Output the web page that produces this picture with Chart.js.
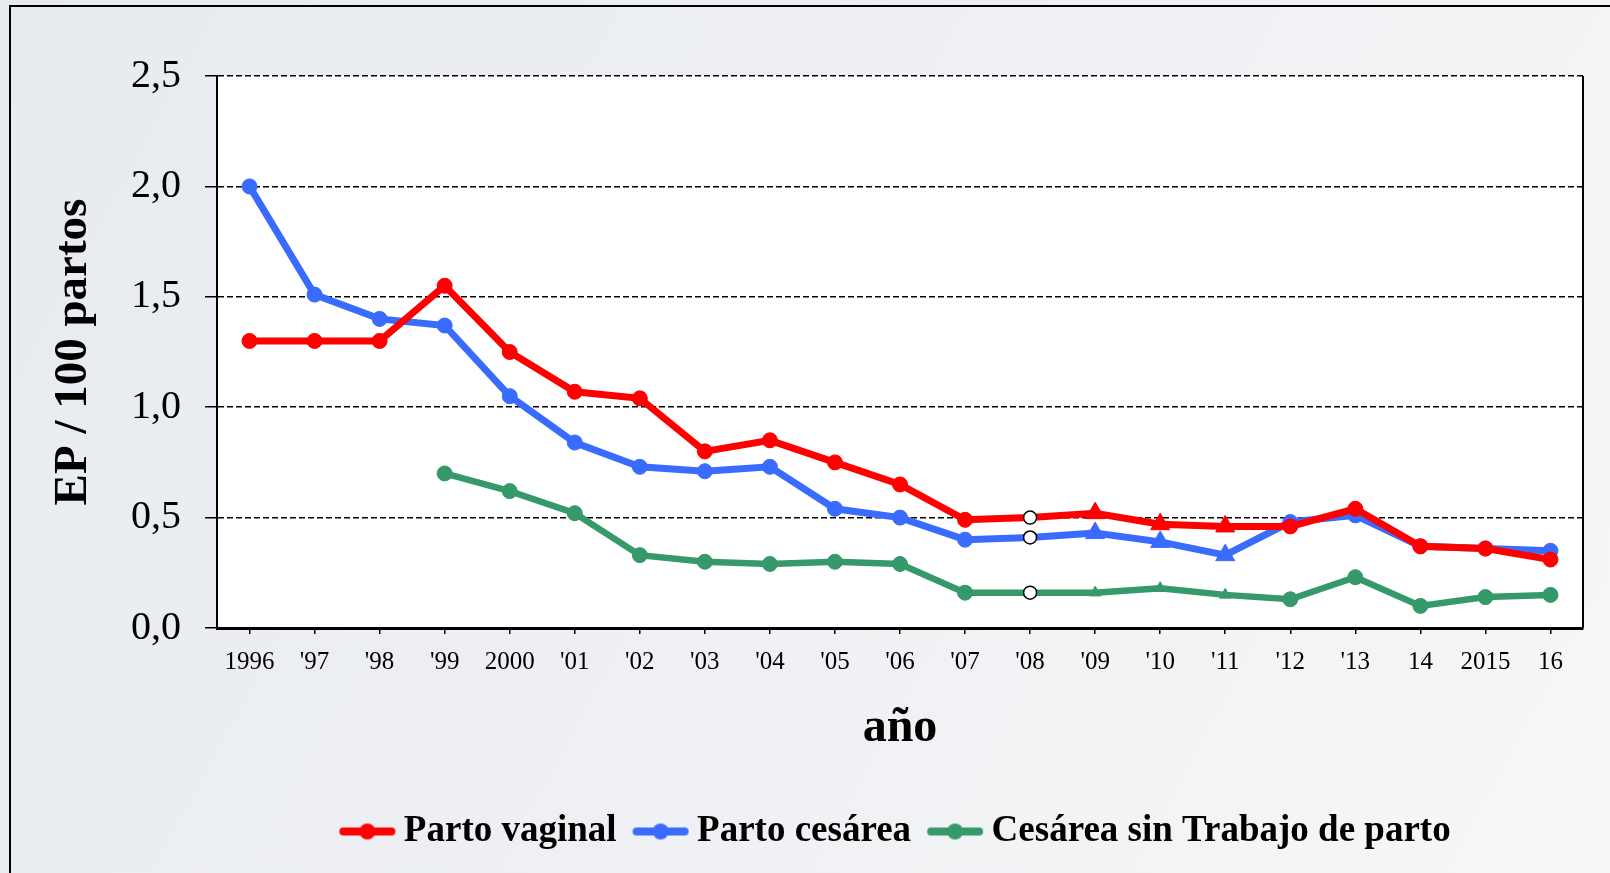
<!DOCTYPE html>
<html>
<head>
<meta charset="utf-8">
<script src="https://cdn.jsdelivr.net/npm/chart.js@4"></script>
<style>
  html, body { margin: 0; padding: 0; background: #eef0f3; }
  #wrap { width: 1610px; height: 873px; position: relative; }
</style>
</head>
<body>
<div id="wrap"><canvas id="chart" width="1610" height="873"></canvas></div>
<script>
const YEARS = ['1996', "'97", "'98", "'99", '2000', "'01", "'02", "'03", "'04", "'05", "'06",
    "'07", "'08", "'09", "'10", "'11", "'12", "'13", '14', '2015', '16'];
const VAGINAL = [1.30, 1.30, 1.30, 1.55, 1.25, 1.07, 1.04, 0.80, 0.85, 0.75, 0.65,
    0.49, 0.50, 0.52, 0.47, 0.46, 0.46, 0.54, 0.37, 0.36, 0.31];
const CESAREA = [2.00, 1.51, 1.40, 1.37, 1.05, 0.84, 0.73, 0.71, 0.73, 0.54, 0.50,
    0.40, 0.41, 0.43, 0.39, 0.33, 0.48, 0.51, 0.37, 0.36, 0.35];
const SIN_TRABAJO = [null, null, null, 0.70, 0.62, 0.52, 0.33, 0.30, 0.29, 0.30, 0.29,
    0.16, 0.16, 0.16, 0.18, 0.15, 0.13, 0.23, 0.10, 0.14, 0.15];
const Y_TICKS = [0, 0.5, 1.0, 1.5, 2.0, 2.5];
const OPEN_YEARS = ["'08"];
const TRIANGLE_YEARS = ["'09", "'10", "'11"];

const RED = '#ff0000', BLUE = '#3a6bff', GREEN = '#36996a';
const FONT = '"Liberation Serif", "Times New Roman", serif';

const PLOT = { left: 217, top: 76, right: 1583, bottom: 628 };
const X_AXIS_HEIGHT = 159;

function markerKind(i) {
    if (OPEN_YEARS.includes(YEARS[i])) return 'open';
    if (TRIANGLE_YEARS.includes(YEARS[i])) return 'triangle';
    return 'circle';
}

function series(label, data, color, width, triR) {
    return {
        label, data,
        borderColor: color,
        borderWidth: width,
        tension: 0,
        pointStyle: c => markerKind(c.dataIndex) === 'triangle' ? 'triangle' : 'circle',
        pointRadius: c => {
            const k = markerKind(c.dataIndex);
            return k === 'triangle' ? triR : k === 'open' ? 6.5 : 7.5;
        },
        pointBackgroundColor: c => markerKind(c.dataIndex) === 'open' ? '#ffffff' : color,
        pointBorderColor: c => markerKind(c.dataIndex) === 'open' ? '#000000' : color,
        pointBorderWidth: c => markerKind(c.dataIndex) === 'open' ? 1.5 : 1,
        pointHoverRadius: 9
    };
}

function legendMarker(color) {
    const c = document.createElement('canvas');
    c.width = 58; c.height = 20;
    const x = c.getContext('2d');
    x.strokeStyle = color; x.lineWidth = 8; x.lineCap = 'round';
    x.beginPath(); x.moveTo(5, 10); x.lineTo(53, 10); x.stroke();
    x.fillStyle = color;
    x.beginPath(); x.arc(29, 10, 8, 0, Math.PI * 2); x.fill();
    return c;
}
const MARKERS = [legendMarker(RED), legendMarker(BLUE), legendMarker(GREEN)];

const backdrop = {
    id: 'backdrop',
    beforeDraw(chart) {
        const { ctx, width, height, chartArea: a } = chart;
        ctx.save();
        const g = ctx.createLinearGradient(0, 0, width, height);
        g.addColorStop(0, '#e7eaef');
        g.addColorStop(0.5, '#eef0f3');
        g.addColorStop(1, '#f6f7f8');
        ctx.fillStyle = g;
        ctx.fillRect(0, 0, width, height);
        ctx.fillStyle = '#ffffff';
        ctx.fillRect(a.left, a.top, a.right - a.left, a.bottom - a.top);
        ctx.strokeStyle = '#000';
        ctx.lineWidth = 2;
        ctx.beginPath();
        ctx.moveTo(10, height); ctx.lineTo(10, 6); ctx.lineTo(width, 6);
        ctx.stroke();
        ctx.restore();
    },
    afterDatasetsDraw(chart) {
        const { ctx, chartArea: a } = chart;
        ctx.save();
        ctx.strokeStyle = '#000';
        ctx.lineWidth = 2;
        ctx.beginPath();
        ctx.moveTo(a.right, a.top); ctx.lineTo(a.right, a.bottom);
        ctx.stroke();
        ctx.restore();
    }
};

new Chart(document.getElementById('chart'), {
    type: 'line',
    data: {
        labels: YEARS,
        datasets: [
            series('Parto vaginal', VAGINAL, RED, 7, 11),
            series('Parto cesárea', CESAREA, BLUE, 7, 11),
            series('Cesárea sin Trabajo de parto', SIN_TRABAJO, GREEN, 6.5, 6.5)
        ]
    },
    options: {
        responsive: false,
        animation: false,
        layout: { padding: { left: 0, top: PLOT.top, right: 1610 - PLOT.right, bottom: 13 } },
        plugins: {
            legend: {
                position: 'bottom',
                fullSize: false,
                labels: {
                    usePointStyle: true,
                    pointStyleWidth: 36,
                    padding: 26,
                    color: '#000',
                    font: { family: FONT, size: 37, weight: 'bold' },
                    generateLabels(chart) {
                        const items = Chart.defaults.plugins.legend.labels.generateLabels(chart);
                        items.forEach((it, i) => { it.pointStyle = MARKERS[i]; });
                        return items;
                    }
                }
            }
        },
        scales: {
            x: {
                offset: true,
                afterFit(scale) { scale.height = X_AXIS_HEIGHT; },
                grid: { display: true, drawOnChartArea: false, color: '#000', lineWidth: 1.5, tickLength: 6 },
                border: { display: true, color: '#000', width: 3 },
                ticks: {
                    autoSkip: false, maxRotation: 0, padding: 13, color: '#000',
                    font: { family: FONT, size: 25 }
                },
                title: {
                    display: true, text: 'año', color: '#000',
                    font: { family: FONT, size: 48, weight: 'bold' },
                    padding: { top: 0, bottom: 30 }
                }
            },
            y: {
                min: 0, max: 2.5,
                afterFit(scale) { scale.width = PLOT.left; },
                afterBuildTicks(scale) { scale.ticks = Y_TICKS.map(v => ({ value: v })); },
                grid: {
                    color: '#000', lineWidth: 1.5,
                    tickLength: 12, tickBorderDash: [], tickColor: '#000', tickWidth: 1.5
                },
                border: { display: true, color: '#000', width: 2, dash: [6, 3] },
                ticks: {
                    padding: 24, color: '#000',
                    font: { family: FONT, size: 40 },
                    callback: v => v.toFixed(1).replace('.', ',')
                },
                title: {
                    display: true, text: 'EP / 100 partos', color: '#000',
                    font: { family: FONT, size: 47, weight: 'bold' },
                    padding: { top: 46, bottom: 0 }
                }
            }
        }
    },
    plugins: [backdrop]
});
</script>
</body>
</html>
